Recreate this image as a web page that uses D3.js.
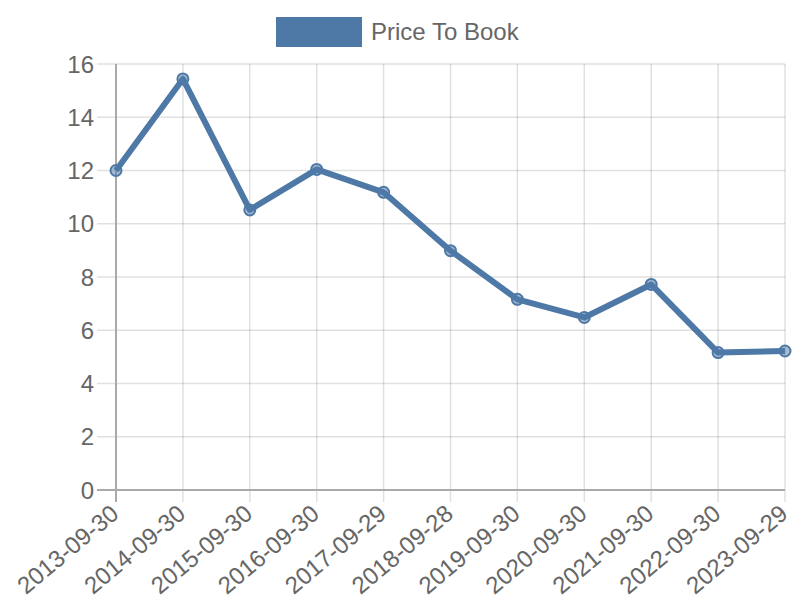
<!DOCTYPE html>
<html><head><meta charset="utf-8">
<script src="https://cdn.jsdelivr.net/npm/d3@7"></script>
<style>body{margin:0;background:#fff}svg{display:block}text{font-family:"Liberation Sans",Arial,Helvetica,sans-serif}</style>
</head><body><svg id="c" width="800" height="600"></svg>
<script>
const categories = ["2013-09-30","2014-09-30","2015-09-30","2016-09-30","2017-09-29","2018-09-28","2019-09-30","2020-09-30","2021-09-30","2022-09-30","2023-09-29"];
const priceToBook = [12.0,15.44,10.52,12.04,11.18,8.99,7.16,6.48,7.72,5.16,5.22];
const yTicks = [0,2,4,6,8,10,12,14,16];
const seriesName = "Price To Book";
const color = "#4e79a7";

const svg = d3.select("#c");
const L = 116, R = 785, T = 64, B = 490;
const x = d3.scalePoint().domain(categories).range([L, R]);
const y = d3.scaleLinear().domain([0,16]).range([B, T]);

// grid
const g = svg.append("g");
g.selectAll(".hg").data(yTicks).join("line")
  .attr("x1", L-19).attr("x2", R).attr("y1", d=>y(d)).attr("y2", d=>y(d))
  .attr("stroke", "rgba(0,0,0,0.12)").attr("stroke-width", 1.5);
g.selectAll(".vg").data(categories).join("line")
  .attr("x1", d=>x(d)).attr("x2", d=>x(d)).attr("y1", T).attr("y2", B+12)
  .attr("stroke", "rgba(0,0,0,0.12)").attr("stroke-width", 1.5);
// axis lines
g.append("line").attr("x1", L).attr("x2", L).attr("y1", T).attr("y2", B+12).attr("stroke", "#aaa").attr("stroke-width", 2);
g.append("line").attr("x1", L-19).attr("x2", R).attr("y1", B).attr("y2", B).attr("stroke", "#aaa").attr("stroke-width", 2);

// y labels
g.selectAll(".yl").data(yTicks).join("text")
  .attr("x", L-22).attr("y", d=>y(d)).attr("dy", "0.36em")
  .attr("text-anchor", "end").attr("font-size", 24).attr("fill", "#666").text(d=>d);
// x labels
g.selectAll(".xl").data(categories).join("text")
  .attr("transform", d=>`translate(${x(d)-7},${B+13}) rotate(-40)`)
  .attr("text-anchor", "end").attr("dy", "0.72em").attr("font-size", 24).attr("fill", "#666").text(d=>d);

// line
const line = d3.line().x((d,i)=>x(categories[i])).y(d=>y(d));
svg.append("path").datum(priceToBook).attr("d", line)
  .attr("fill", "none").attr("stroke", color).attr("stroke-width", 6).attr("stroke-linejoin", "round");
svg.selectAll(".pt").data(priceToBook).join("circle")
  .attr("cx", (d,i)=>x(categories[i])).attr("cy", d=>y(d)).attr("r", 5.5)
  .attr("fill", "rgba(78,121,167,0.5)").attr("stroke", color).attr("stroke-width", 2);

// legend
svg.append("rect").attr("x", 276).attr("y", 17).attr("width", 86).attr("height", 30).attr("fill", color);
svg.append("text").attr("x", 371).attr("y", 40).attr("font-size", 24).attr("fill", "#666").text(seriesName);
</script></body></html>
